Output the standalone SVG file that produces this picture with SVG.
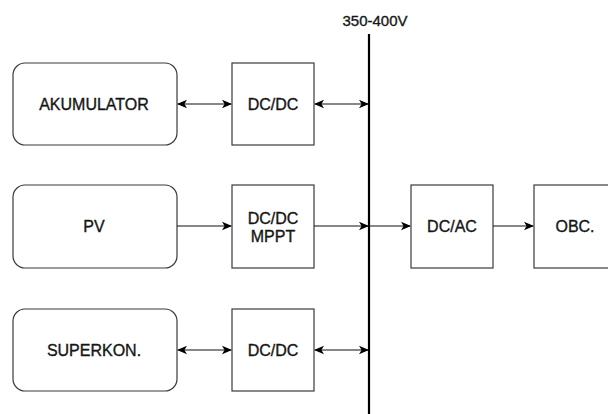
<svg xmlns="http://www.w3.org/2000/svg" width="608" height="414" viewBox="0 0 608 414">
  <style>
    .box { fill: #ffffff; stroke: #3a3a3a; stroke-width: 1.2; }
    .lbl { font-family: "Liberation Sans", Arial, Helvetica, sans-serif; font-size: 16px; fill: #161616; text-anchor: middle; stroke: #161616; stroke-width: 0.35; }
    .wire { stroke: #111111; stroke-width: 1.2; fill: none; }
    .bus { stroke: #000000; stroke-width: 2.2; }
  </style>
  <defs>
    <marker id="head" viewBox="0 0 10 10" refX="9" refY="5" markerWidth="10" markerHeight="10" markerUnits="userSpaceOnUse" orient="auto-start-reverse">
      <path d="M0,0.8 L10,5 L0,9.2 L2.6,5 Z" fill="#000000"/>
    </marker>
  </defs>

  <rect width="608" height="414" fill="#ffffff"/>

  <!-- DC bus -->
  <g id="bus">
    <line class="bus" x1="369" y1="34" x2="369" y2="414"/>
    <text class="lbl" x="375" y="26" style="font-size:15px">350-400V</text>
  </g>

  <!-- storage branch -->
  <g id="akumulator">
    <rect class="box" x="13" y="63" width="164" height="82" rx="12" ry="12"/>
    <text class="lbl" x="94" y="110">AKUMULATOR</text>
  </g>
  <g id="dcdc1">
    <rect class="box" x="232" y="63" width="82" height="82"/>
    <text class="lbl" x="273" y="110">DC/DC</text>
  </g>

  <!-- PV branch -->
  <g id="pv">
    <rect class="box" x="13" y="185" width="164" height="83" rx="12" ry="12"/>
    <text class="lbl" x="94" y="232">PV</text>
  </g>
  <g id="dcdc-mppt">
    <rect class="box" x="232" y="185" width="82" height="83"/>
    <text class="lbl" x="273" y="224">DC/DC</text>
    <text class="lbl" x="273" y="242">MPPT</text>
  </g>
  <g id="dcac">
    <rect class="box" x="411" y="185" width="82" height="83"/>
    <text class="lbl" x="452" y="232">DC/AC</text>
  </g>
  <g id="obc">
    <rect class="box" x="534" y="185" width="82" height="83"/>
    <text class="lbl" x="575" y="232">OBC.</text>
  </g>

  <!-- supercapacitor branch -->
  <g id="superkon">
    <rect class="box" x="13" y="309" width="164" height="82" rx="12" ry="12"/>
    <text class="lbl" x="94" y="356">SUPERKON.</text>
  </g>
  <g id="dcdc2">
    <rect class="box" x="232" y="309" width="82" height="82"/>
    <text class="lbl" x="273" y="356">DC/DC</text>
  </g>

  <!-- connectors -->
  <g id="connectors">
    <line class="wire" x1="178" y1="104" x2="231" y2="104" marker-start="url(#head)" marker-end="url(#head)"/>
    <line class="wire" x1="315" y1="104" x2="368" y2="104" marker-start="url(#head)" marker-end="url(#head)"/>
    <line class="wire" x1="177" y1="226" x2="231" y2="226" marker-end="url(#head)"/>
    <line class="wire" x1="314" y1="226" x2="368" y2="226" marker-end="url(#head)"/>
    <line class="wire" x1="370" y1="226" x2="410" y2="226" marker-end="url(#head)"/>
    <line class="wire" x1="493" y1="226" x2="533" y2="226" marker-end="url(#head)"/>
    <line class="wire" x1="178" y1="350" x2="231" y2="350" marker-start="url(#head)" marker-end="url(#head)"/>
    <line class="wire" x1="315" y1="350" x2="368" y2="350" marker-start="url(#head)" marker-end="url(#head)"/>
  </g>
</svg>
